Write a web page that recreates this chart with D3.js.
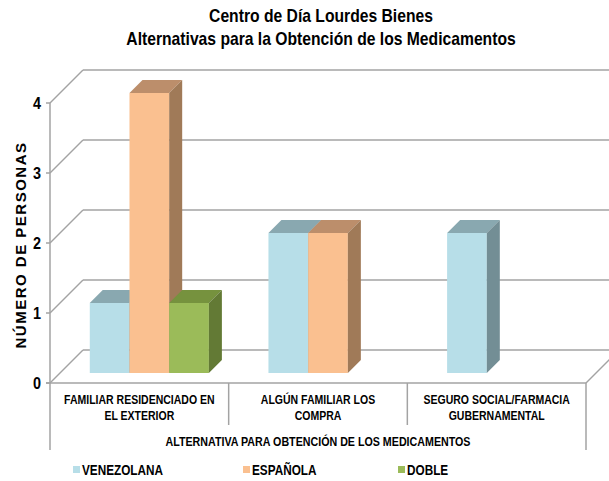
<!DOCTYPE html>
<html><head><meta charset="utf-8">
<script src="https://cdn.jsdelivr.net/npm/d3@7/dist/d3.min.js"></script>
<style>body{margin:0;background:#fff}svg{display:block}text{font-family:"Liberation Sans",Arial,sans-serif;font-weight:bold;fill:#000}</style>
</head><body><svg id="c" width="609" height="481"></svg>
<script>
const titleLines = ["Centro de Día Lourdes Bienes", "Alternativas para la Obtención de los Medicamentos"];
const categories = [["FAMILIAR RESIDENCIADO EN","EL EXTERIOR"],["ALGÚN FAMILIAR LOS","COMPRA"],["SEGURO SOCIAL/FARMACIA","GUBERNAMENTAL"]];
const seriesNames = ["VENEZOLANA","ESPAÑOLA","DOBLE"];
const venezolana = [1,2,2];
const espanola = [4,2,0];
const doble = [1,0,0];
const yTicks = [0,1,2,3,4];
const yTitle = "NÚMERO DE PERSONAS";
const xTitle = "ALTERNATIVA PARA OBTENCIÓN DE LOS MEDICAMENTOS";

const seriesValues = [venezolana, espanola, doble];
const colors = [
  {front:"#b7dee8", top:"#89a8b0", side:"#738e95"},
  {front:"#fac090", top:"#bc8e6b", side:"#a07a58"},
  {front:"#9bbb59", top:"#76923e", side:"#637a35"}
];

const svg = d3.select("#c");
const gridColor = "#a3a3a3";
const depthFull = 33, barFront = 10, barBack = 23;
const x0 = d3.scaleBand().domain(d3.range(categories.length)).range([50,586]).padding(0);
const x1 = d3.scaleBand().domain(d3.range(seriesNames.length)).range([0,x0.bandwidth()]).paddingInner(0).paddingOuter(0.75);
const y = d3.scaleLinear().domain([0,4]).range([383,103]);

function squeeze(sel, f){
  sel.each(function(){
    const l = this.getComputedTextLength();
    d3.select(this).attr("textLength", l*f).attr("lengthAdjust","spacingAndGlyphs");
  });
}

// title
svg.selectAll("text.title").data(titleLines).join("text").attr("class","title")
  .attr("x",321).attr("y",(d,i)=>22+i*23).attr("text-anchor","middle")
  .style("font-size","19px").text(d=>d).call(squeeze,0.825);

// back wall gridlines + diagonals
const g = svg.append("g");
yTicks.forEach(t=>{
  const yf = y(t);
  g.append("line").attr("x1",50).attr("y1",yf).attr("x2",50+depthFull).attr("y2",yf-depthFull)
    .attr("stroke",gridColor).attr("stroke-width",1.5);
  g.append("line").attr("x1",50+depthFull).attr("y1",yf-depthFull).attr("x2",586+depthFull).attr("y2",yf-depthFull)
    .attr("stroke",gridColor).attr("stroke-width",1.5);
});
g.append("line").attr("x1",586).attr("y1",y(0)).attr("x2",586+depthFull).attr("y2",y(0)-depthFull)
  .attr("stroke",gridColor).attr("stroke-width",1.5);
g.append("line").attr("x1",50).attr("y1",y(4)).attr("x2",50).attr("y2",y(0)).attr("stroke",gridColor).attr("stroke-width",1.5);
yTicks.forEach(t=>{
  g.append("line").attr("x1",46).attr("x2",50).attr("y1",y(t)).attr("y2",y(t)).attr("stroke",gridColor).attr("stroke-width",1.5);
  g.append("text").attr("x",41).attr("y",y(t)+6).attr("text-anchor","end").style("font-size","16px").text(t).call(squeeze,0.9);
});
g.append("line").attr("x1",46).attr("x2",586).attr("y1",y(0)).attr("y2",y(0)).attr("stroke",gridColor).attr("stroke-width",1.5);
x0.domain().forEach(i=>{
  const xl = x0(i);
  g.append("line").attr("x1",xl).attr("x2",xl).attr("y1",y(0)).attr("y2",i===0?450:425).attr("stroke",gridColor).attr("stroke-width",1.5);
});
g.append("line").attr("x1",586).attr("x2",586).attr("y1",y(0)).attr("y2",450).attr("stroke",gridColor).attr("stroke-width",1.5);

// bars
const bars = svg.append("g");
categories.forEach((c,ci)=>{
  seriesValues.forEach((vals,si)=>{
    const v = vals[ci];
    if(!v) return;
    const xl = x0(ci)+x1(si)+barFront, xr = xl + x1.bandwidth();
    const yb = y(0)-barFront, yt = y(v)-barFront;
    const d = barBack-barFront;
    const col = colors[si];
    bars.append("rect").attr("x",xl).attr("y",yt).attr("width",xr-xl).attr("height",yb-yt).attr("fill",col.front);
    bars.append("path").attr("d",`M${xl},${yt}L${xr},${yt}L${xr+d},${yt-d}L${xl+d},${yt-d}Z`).attr("fill",col.top);
    bars.append("path").attr("d",`M${xr},${yt}L${xr+d},${yt-d}L${xr+d},${yb-d}L${xr},${yb}Z`).attr("fill",col.side);
  });
});

// category labels
const catLabels = svg.append("g");
categories.forEach((lines,ci)=>{
  lines.forEach((ln,li)=>{
    catLabels.append("text").attr("x",x0(ci)+x0.bandwidth()/2).attr("y",404+li*16)
      .attr("text-anchor","middle").style("font-size","12.5px").text(ln);
  });
});
catLabels.selectAll("text").call(squeeze,0.84);

// x title
svg.append("text").attr("x",318).attr("y",446).attr("text-anchor","middle").style("font-size","12px")
  .text(xTitle).call(squeeze,0.89);

// y title
svg.append("text").attr("transform","translate(26,245) rotate(-90)").attr("text-anchor","middle")
  .style("font-size","15px").style("letter-spacing","1.5px").text(yTitle);

// legend
const legX = [73,243,398];
seriesNames.forEach((n,i)=>{
  svg.append("rect").attr("x",legX[i]).attr("y",466).attr("width",7).attr("height",7).attr("fill",colors[i].front);
  svg.append("text").attr("x",legX[i]+9).attr("y",475).style("font-size","14px").text(n).call(squeeze,0.84);
});
</script></body></html>
